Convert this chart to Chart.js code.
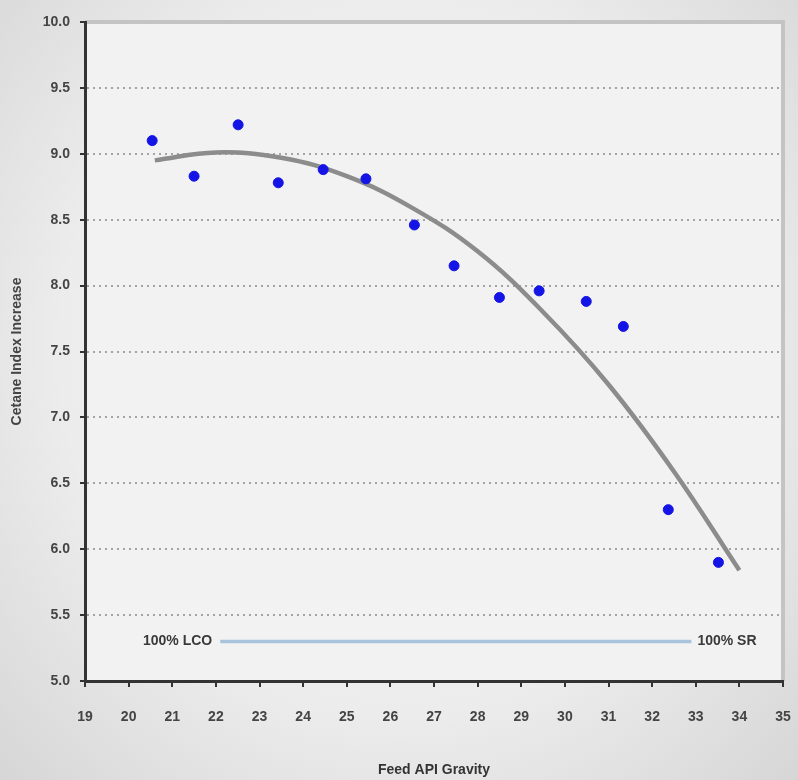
<!DOCTYPE html>
<html>
<head>
<meta charset="utf-8">
<script src="https://cdn.jsdelivr.net/npm/chart.js@4/dist/chart.umd.min.js"></script>
<style>
  html, body { margin: 0; padding: 0; }
  body {
    width: 798px; height: 780px; overflow: hidden;
    background: radial-gradient(ellipse at 50% 45%, #f6f6f6 0%, #ececec 60%, #d6d6d6 100%);
  }
  #wrap { position: relative; width: 798px; height: 780px; }
</style>
</head>
<body>
<div id="wrap"><canvas id="chart" width="798" height="780"></canvas></div>
<script>
const apiGravity = [20.54, 21.5, 22.51, 23.43, 24.46, 25.44, 26.55, 27.46, 28.5, 29.41, 30.49, 31.34, 32.37, 33.52];
const cetaneIncrease = [9.10, 8.83, 9.22, 8.78, 8.88, 8.81, 8.46, 8.15, 7.91, 7.96, 7.88, 7.69, 6.30, 5.90];

// trend curve, read at a few places along the grey line
const trendX = [20.6, 22.0, 23.5, 25.0, 26.5, 28.0, 29.5, 31.0, 32.5, 34.0];
const trendY = [8.95, 9.01, 8.97, 8.83, 8.59, 8.26, 7.80, 7.25, 6.59, 5.84];

// LCO -> SR blend bar
const blendX = [22.1, 32.9];
const blendY = [5.30, 5.30];
const blendLabels = ["100% LCO", "100% SR"];

const FONT = "'Liberation Sans Narrow', 'Liberation Sans', Arial, sans-serif";

const toPoints = (xs, ys) => xs.map((x, i) => ({ x: x, y: ys[i] }));

// plot background + grey frame on top/right
const frame = {
  id: "frame",
  beforeDraw(chart) {
    const { ctx, chartArea: a } = chart;
    ctx.save();
    ctx.fillStyle = "#f2f2f2";
    ctx.fillRect(a.left, a.top, a.right - a.left, a.bottom - a.top);
    ctx.strokeStyle = "#c4c4c4";
    ctx.lineWidth = 4;
    ctx.beginPath();
    ctx.moveTo(a.left, a.top);
    ctx.lineTo(a.right, a.top);
    ctx.lineTo(a.right, a.bottom);
    ctx.stroke();
    ctx.restore();
  }
};

// end labels of the blend bar
const blendText = {
  id: "blendText",
  afterDatasetsDraw(chart) {
    const { ctx, scales: { x, y } } = chart;
    ctx.save();
    ctx.font = "bold 14px " + FONT;
    ctx.fillStyle = "#3a3a3a";
    ctx.textBaseline = "middle";
    const py = y.getPixelForValue(blendY[0]);
    ctx.textAlign = "right";
    ctx.fillText(blendLabels[0], x.getPixelForValue(blendX[0]) - 8, py);
    ctx.textAlign = "left";
    ctx.fillText(blendLabels[1], x.getPixelForValue(blendX[1]) + 6, py);
    ctx.restore();
  }
};

new Chart(document.getElementById("chart"), {
  type: "scatter",
  data: {
    datasets: [
      {
        data: toPoints(apiGravity, cetaneIncrease),
        backgroundColor: "#1414e6",
        borderColor: "#1414e6",
        pointRadius: 5,
        order: 0
      },
      {
        data: toPoints(trendX, trendY),
        showLine: true,
        borderColor: "#8c8c8c",
        borderWidth: 4.5,
        tension: 0.4,
        pointRadius: 0,
        order: 1
      },
      {
        data: toPoints(blendX, blendY),
        showLine: true,
        borderColor: "#a9c3dc",
        borderWidth: 3.5,
        pointRadius: 0,
        order: 2
      }
    ]
  },
  options: {
    responsive: false,
    animation: false,
    events: [],
    layout: { padding: { top: 22, right: 0, left: 0, bottom: 0 } },
    plugins: { legend: { display: false }, tooltip: { enabled: false } },
    scales: {
      x: {
        min: 19, max: 35,
        ticks: {
          stepSize: 1, color: "#444", padding: 22,
          font: { family: FONT, size: 14, weight: "bold" }
        },
        grid: { drawOnChartArea: false, drawTicks: true, tickLength: 6, color: "#333", lineWidth: 2 },
        border: { display: true, color: "#333", width: 3 },
        title: {
          display: true, text: "Feed API Gravity", color: "#333",
          font: { family: FONT, size: 14, weight: "bold" },
          padding: { top: 0, bottom: 1 }
        },
        afterFit(s) { s.height = 99; s.paddingRight = 15; }
      },
      y: {
        min: 5, max: 10,
        ticks: {
          stepSize: 0.5, color: "#444", padding: 10,
          font: { family: FONT, size: 14, weight: "bold" },
          callback: (v) => v.toFixed(1)
        },
        grid: {
          color: (c) => (c.tick && c.tick.value >= 10 ? "rgba(0,0,0,0)" : "#a4a4a4"),
          lineWidth: 2, tickLength: 5,
          tickColor: "#333", tickWidth: 2
        },
        border: { display: true, color: "#333", width: 3, dash: [2, 4] },
        title: {
          display: true, text: "Cetane Index Increase", color: "#444",
          font: { family: FONT, size: 14, weight: "bold" },
          padding: { top: 9, bottom: 0 }
        },
        afterFit(s) { s.width = 85; }
      }
    }
  },
  plugins: [frame, blendText]
});
</script>
</body>
</html>
